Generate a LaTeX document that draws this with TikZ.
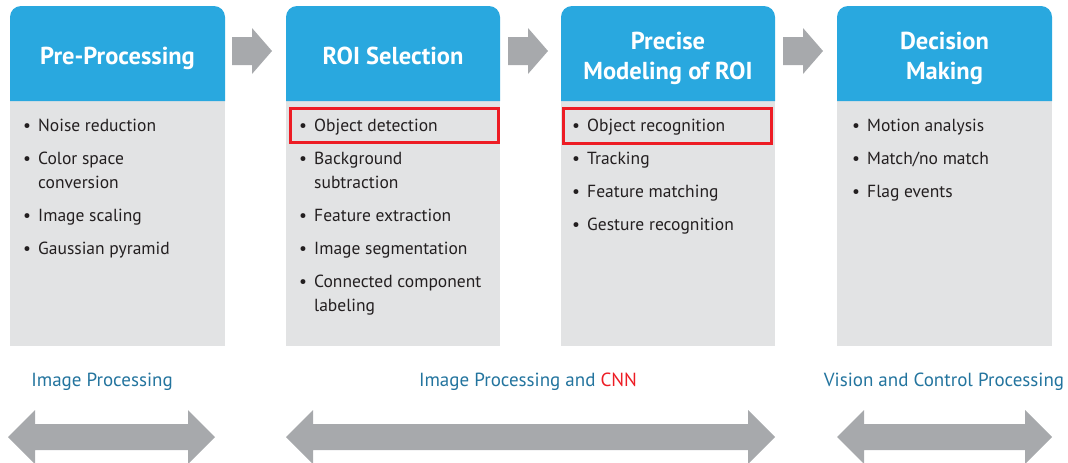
\documentclass[tikz,border=0pt]{standalone}
\usepackage{fontspec}
\setmainfont{PT Sans}
\definecolor{hblue}{RGB}{41,168,223}
\definecolor{bgray}{RGB}{226,227,228}
\definecolor{agray}{RGB}{167,169,172}
\definecolor{rred}{RGB}{237,28,36}
\definecolor{lteal}{RGB}{35,116,158}
\definecolor{tblack}{RGB}{35,31,32}
\tikzset{
  x=1pt, y=-1pt,
  headtxt/.style={text=white, font=\bfseries\fontsize{24.5}{30}\selectfont, align=center, anchor=base, inner sep=0pt},
  itemtxt/.style={text=tblack, font=\fontsize{17.5}{24}\selectfont, align=left, anchor=base west, inner sep=0pt},
  labtxt/.style={text=lteal, font=\fontsize{19}{22}\selectfont, anchor=base, inner sep=0pt},
  redbox/.style={draw=rred, line width=3pt},
  blockarrow/.style={fill=agray}
}
\newcommand{\bx}[2]{%
  \fill[bgray] (#1,100) rectangle (#2,346);
  \fill[hblue] (#1,101) [rounded corners=11pt] -- (#1,6) -- (#2,6) [sharp corners] -- (#2,101) -- cycle;}
\newcommand{\rarr}[1]{%
  \fill[blockarrow] (#1,37) -- ++(20,0) -- ++(0,-9) -- ++(20,23) -- ++(-20,23) -- ++(0,-9) -- ++(-20,0) -- cycle;}
\newcommand{\darr}[2]{%
  \fill[blockarrow] (#1,437) -- ++(27,-27) -- ++(0,14) -- ($(#2,424)+(-27,0)$) -- ++(0,-14) -- (#2,437) -- ++(-27,27) -- ++(0,-14) -- ($(#1,450)+(27,0)$) -- ++(0,14) -- cycle;}
\usetikzlibrary{calc}
\begin{document}
\begin{tikzpicture}
\useasboundingbox (0,0) rectangle (1068,463);
\bx{10}{225}
\bx{286}{500}
\bx{561}{775}
\bx{837}{1052}
\rarr{232}
\rarr{508}
\rarr{783}
% headers
\node[headtxt] (h1) at (117.5,64) {Pre-Processing};
\node[headtxt] (h2) at (393,64) {ROI Selection};
\node[headtxt] (h3) at (668,79) {Precise\\Modeling of ROI};
\node[headtxt] (h4) at (944.5,79) {Decision\\Making};
% red boxes
\draw[redbox] (290,108) rectangle (498,142);
\draw[redbox] (563,108) rectangle (771,143);
% items (multi-line items are placed by their last baseline)
\foreach \bxx/\tx/\lst in {23/38/{131/131/{Noise reduction},164/188/{Color space\\conversion},221/221/{Image scaling},254/254/{Gaussian pyramid}},
  299/314/{131/131/{Object detection},164/188/{Background\\subtraction},221/221/{Feature extraction},254/254/{Image segmentation},287/311/{Connected component\\labeling}},
  572/587/{131/131/{Object recognition},164/164/{Tracking},197/197/{Feature matching},230/230/{Gesture recognition}},
  852/867/{131/131/{Motion analysis},164/164/{Match/no match},197/197/{Flag events}}}{
  \foreach \yy/\ly/\tt in \lst {
    \node[itemtxt] (i\bxx-\yy) at (\tx,\ly) {\tt};
    \node[itemtxt] (b\bxx-\yy) at (\bxx,\yy) {\textbullet};
  }
}
% labels
\node[labtxt] (l1) at (102,386) {Image Processing};
\node[labtxt] (l2) at (528,386) {Image Processing and \textcolor{rred}{CNN}};
\node[labtxt] (l3) at (944,386) {Vision and Control Processing};
% double arrows
\darr{8}{215}
\darr{286}{775}
\darr{837}{1052}
\end{tikzpicture}
\end{document}
